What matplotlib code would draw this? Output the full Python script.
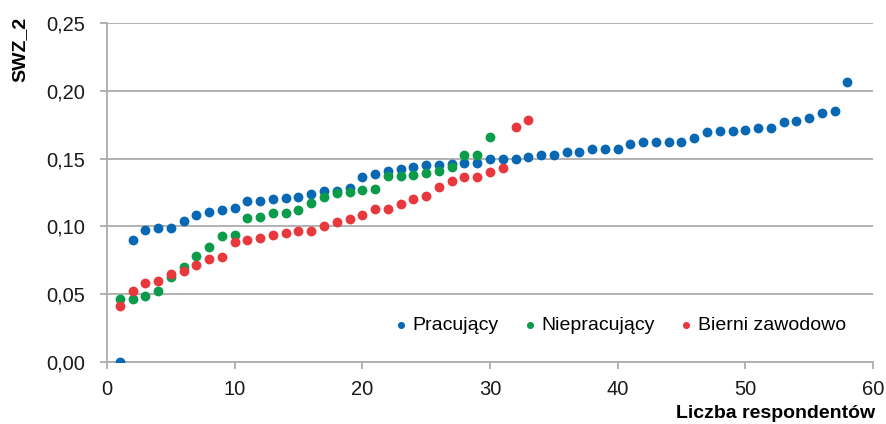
import matplotlib
matplotlib.use("Agg")
import matplotlib.pyplot as plt
from matplotlib.ticker import FuncFormatter

plt.rcParams['font.family'] = ['Liberation Sans', 'DejaVu Sans']

# Data
pracujacy = [0.000, 0.090, 0.0976, 0.0986, 0.0991, 0.1038, 0.1084, 0.1109, 0.1119, 0.1133,
             0.1185, 0.1187, 0.1205, 0.1212, 0.1217, 0.1237, 0.1264, 0.1261, 0.1283, 0.1367,
             0.1384, 0.1409, 0.1423, 0.1438, 0.1453, 0.1455, 0.1458, 0.147, 0.147, 0.150,
             0.150, 0.150, 0.1512, 0.1524, 0.1524, 0.1551, 0.1551, 0.1568, 0.1568, 0.1568,
             0.161, 0.162, 0.162, 0.162, 0.162, 0.1652, 0.1694, 0.1701, 0.1704, 0.1711,
             0.1728, 0.1726, 0.1768, 0.1777, 0.180, 0.1836, 0.1854, 0.2063]
niepracujacy = [0.0467, 0.0462, 0.0484, 0.0521, 0.0627, 0.070, 0.0784, 0.0848, 0.0932, 0.0937,
                0.106, 0.1066, 0.110, 0.110, 0.1119, 0.1176, 0.1217, 0.1249, 0.1254, 0.1266,
                0.1276, 0.1369, 0.1375, 0.1382, 0.1393, 0.1406, 0.1438, 0.1529, 0.1529, 0.1662]
bierni = [0.0416, 0.0524, 0.0583, 0.060, 0.0647, 0.0674, 0.0716, 0.0757, 0.0775, 0.0883,
          0.090, 0.0916, 0.0933, 0.0951, 0.0966, 0.0966, 0.100, 0.1032, 0.1052, 0.1082,
          0.1126, 0.1126, 0.1165, 0.1202, 0.1224, 0.1293, 0.1335, 0.1367, 0.1367, 0.1401,
          0.1434, 0.1736, 0.1785]
series_names = ['Pracujący', 'Niepracujący', 'Bierni zawodowo']
colors = ['#0868B4', '#0A9B4B', '#E8383D']
x_ticks = [0, 10, 20, 30, 40, 50, 60]
y_ticks = [0.00, 0.05, 0.10, 0.15, 0.20, 0.25]

fig = plt.figure(figsize=(8.87, 4.24), dpi=100)
ax = fig.add_axes([107/887, 1-362/424, (873-107)/887, (362-23)/424])

for vals, name, col in zip([pracujacy, niepracujacy, bierni], series_names, colors):
    xs = list(range(1, len(vals)+1))
    ax.scatter(xs, vals, s=50, color=col, label=name, linewidths=0, zorder=3)

ax.set_xlim(0, 60)
ax.set_ylim(0, 0.25)
ax.set_xticks(x_ticks)
ax.set_yticks(y_ticks)
ax.yaxis.set_major_formatter(FuncFormatter(lambda v, p: f"{v:.2f}".replace('.', ',')))
ax.grid(axis='y', color='#ADADAD', linewidth=1.3, zorder=0)
ax.set_axisbelow(True)
for s in ['top', 'right']:
    ax.spines[s].set_visible(False)
for s in ['left', 'bottom']:
    ax.spines[s].set_color('#ADADAD')
    ax.spines[s].set_linewidth(1.3)
ax.tick_params(axis='both', colors='#ADADAD', width=1.3, length=5,
               labelcolor='#1a1a1a', labelsize=14.5)
ax.tick_params(axis='y', pad=11)
ax.tick_params(axis='x', pad=8)

leg = ax.legend(loc='center right', bbox_to_anchor=((846-107)/766, (362-325)/339), ncol=3,
                frameon=False, fontsize=14,
                markerscale=0.72, handlelength=0.6, handletextpad=0.3, columnspacing=1.3,
                borderaxespad=0, borderpad=0)

fig.text(20/887, 1-17/424, 'SWZ_2', rotation=90, ha='center', va='top',
         fontweight='bold', fontsize=14)
fig.text(875/887, 1-413/424, 'Liczba respondentów', ha='right', va='center',
         fontweight='bold', fontsize=14)

fig.savefig('out.png', dpi=100)
